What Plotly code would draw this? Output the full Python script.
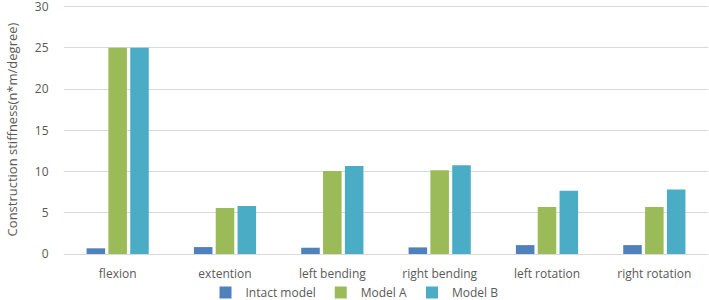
import plotly.graph_objects as go

categories = ["flexion", "extention", "left bending", "right bending", "left rotation", "right rotation"]
intact_model = [0.69, 0.84, 0.76, 0.80, 1.08, 1.08]
model_a = [25.0, 5.58, 10.08, 10.16, 5.70, 5.70]
model_b = [25.0, 5.82, 10.68, 10.76, 7.67, 7.83]

series_names = ["Intact model", "Model A", "Model B"]
colors = ["#4F81BD", "#9BBB59", "#4BACC6"]

fig = go.Figure()
for name, vals, c in zip(series_names, [intact_model, model_a, model_b], colors):
    fig.add_trace(go.Bar(name=name, x=categories, y=vals, marker=dict(color=c, line=dict(width=0))))

font = "Open Sans, Liberation Sans, sans-serif"
fig.update_layout(
    width=709, height=300,
    margin=dict(l=64, r=1, t=5, b=46, autoexpand=False),
    paper_bgcolor="white", plot_bgcolor="white",
    barmode="group", bargap=0.39, bargroupgap=0.15,
    font=dict(family=font, size=12, color="#595959"),
    showlegend=True,
    legend=dict(orientation="h", x=0.5, xanchor="center", xref="container",
                y=0.025, yanchor="middle", yref="container",
                font=dict(size=12, color="#595959"), itemwidth=30, tracegroupgap=0,
                bgcolor="rgba(0,0,0,0)"),
    xaxis=dict(showgrid=False, showline=True, linecolor="#d9d9d9", linewidth=1,
               tickfont=dict(size=12, color="#595959"),
               ticks="outside", ticklen=9, tickcolor="rgba(0,0,0,0)", automargin=False),
    yaxis=dict(range=[0, 30.2], tickvals=[0, 5, 10, 15, 20, 25, 30], showgrid=True,
               gridcolor="#d9d9d9", gridwidth=1,
               zeroline=False, showline=False, ticklabeloverflow="allow",
               ticks="outside", ticklen=12, tickcolor="rgba(0,0,0,0)", automargin=False,
               tickfont=dict(size=12, color="#595959"),
               title=dict(text="Construction stiffness(n*m/degree)", font=dict(size=13, color="#595959"), standoff=14)),
)

fig.write_html("out.html", config={"displayModeBar": False},
               post_script="document.body.style.margin='0';document.body.style.overflow='hidden';")
